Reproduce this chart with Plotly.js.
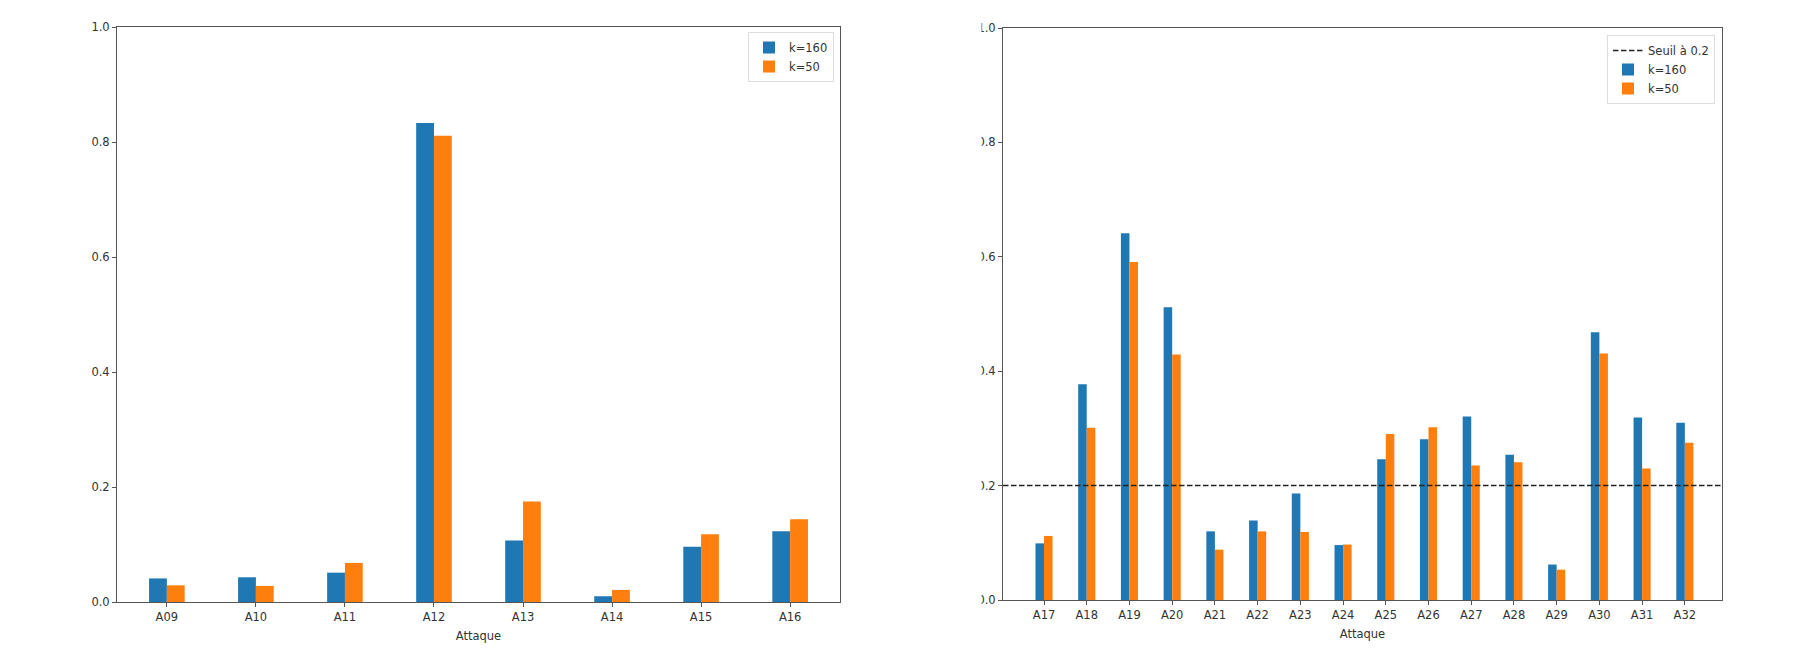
<!DOCTYPE html>
<html>
<head>
<meta charset="utf-8">
<script src="https://cdn.plot.ly/plotly-3.0.1.min.js"></script>
<style>html,body{margin:0;padding:0;background:#fff;}#chart{width:1800px;height:665px;}</style>
</head>
<body>
<div id="chart"></div>
<script>
// Left panel
const catsLeft = ["A09","A10","A11","A12","A13","A14","A15","A16"];
const k160Left = [0.041,0.043,0.051,0.833,0.107,0.010,0.096,0.123];
const k50Left  = [0.029,0.028,0.068,0.811,0.175,0.021,0.118,0.144];
// Right panel
const catsRight = ["A17","A18","A19","A20","A21","A22","A23","A24","A25","A26","A27","A28","A29","A30","A31","A32"];
const k160Right = [0.099,0.377,0.641,0.512,0.120,0.139,0.186,0.096,0.246,0.281,0.321,0.254,0.062,0.468,0.319,0.310];
const k50Right  = [0.112,0.301,0.591,0.429,0.088,0.120,0.119,0.097,0.290,0.302,0.235,0.241,0.053,0.431,0.230,0.275];
const threshold = 0.2;
const yTicks = [0,0.2,0.4,0.6,0.8,1.0];
const seriesNames = ["k=160","k=50"];
const thresholdName = "Seuil à 0.2";
const xTitle = "Attaque";

const BLUE = "#1f77b4", ORANGE = "#ff7f0e";
const FONT = {family:"DejaVu Sans, sans-serif", size:11.5, color:"#333"};

const data = [
  {type:"bar", x:catsLeft, y:k160Left, name:seriesNames[0], marker:{color:BLUE}, xaxis:"x", yaxis:"y", legend:"legend"},
  {type:"bar", x:catsLeft, y:k50Left, name:seriesNames[1], marker:{color:ORANGE}, xaxis:"x", yaxis:"y", legend:"legend"},
  {type:"scatter", mode:"lines", x:[0,1], y:[threshold,threshold], name:thresholdName,
   line:{color:"#222", width:1.5, dash:"5.5px,2.5px"}, xaxis:"x3", yaxis:"y2", legend:"legend2"},
  {type:"bar", x:catsRight, y:k160Right, name:seriesNames[0], marker:{color:BLUE}, xaxis:"x2", yaxis:"y2", legend:"legend2"},
  {type:"bar", x:catsRight, y:k50Right, name:seriesNames[1], marker:{color:ORANGE}, xaxis:"x2", yaxis:"y2", legend:"legend2"}
];

const axisCommon = {
  showline:true, linecolor:"#555", linewidth:1, mirror:true,
  ticks:"outside", ticklen:4, tickcolor:"#555", tickwidth:1,
  showgrid:false, zeroline:false, tickfont:FONT
};

const layout = {
  width:1800, height:665,
  margin:{l:0,r:0,t:0,b:0},
  paper_bgcolor:"#fff", plot_bgcolor:"#fff",
  font:FONT,
  barmode:"group", bargap:0.6, bargroupgap:0,
  hovermode:false,
  xaxis:Object.assign({}, axisCommon, {
    domain:[117/1800, 840/1800], anchor:"y", type:"category",
    range:[-0.56, 7.56],
    title:{text:xTitle, font:FONT, standoff:9}
  }),
  yaxis:Object.assign({}, axisCommon, {
    domain:[1-602/665, 1-27/665], anchor:"x",
    range:[0,1], tickvals:yTicks, tickformat:".1f"
  }),
  xaxis2:Object.assign({}, axisCommon, {
    domain:[1003/1800, 1722/1800], anchor:"y2", type:"category",
    range:[-0.96, 15.87],
    title:{text:xTitle, font:FONT, standoff:9}
  }),
  yaxis2:Object.assign({}, axisCommon, {
    domain:[1-600/665, 1-28/665], anchor:"x2",
    range:[0,1], tickvals:yTicks, tickformat:".1f"
  }),
  xaxis3:{overlaying:"x2", anchor:"y2", range:[0,1], visible:false, showgrid:false, zeroline:false},
  legend:{
    x:834/1800, xanchor:"right", y:1-32/665, yanchor:"top",
    bgcolor:"#fff", bordercolor:"#ddd", borderwidth:1, font:FONT,
    tracegroupgap:0, itemwidth:30
  },
  legend2:{
    x:1715/1800, xanchor:"right", y:1-35/665, yanchor:"top",
    bgcolor:"#fff", bordercolor:"#ddd", borderwidth:1, font:FONT,
    tracegroupgap:0, itemwidth:30
  },
  shapes:[
    {type:"rect", xref:"paper", yref:"paper", layer:"above",
     x0:950/1800, x1:981.5/1800, y0:0.06, y1:0.99,
     fillcolor:"#ffffff", opacity:1, line:{width:0}}
  ],
  showlegend:true
};

Plotly.newPlot("chart", data, layout, {staticPlot:true, displayModeBar:false});
</script>
</body>
</html>
